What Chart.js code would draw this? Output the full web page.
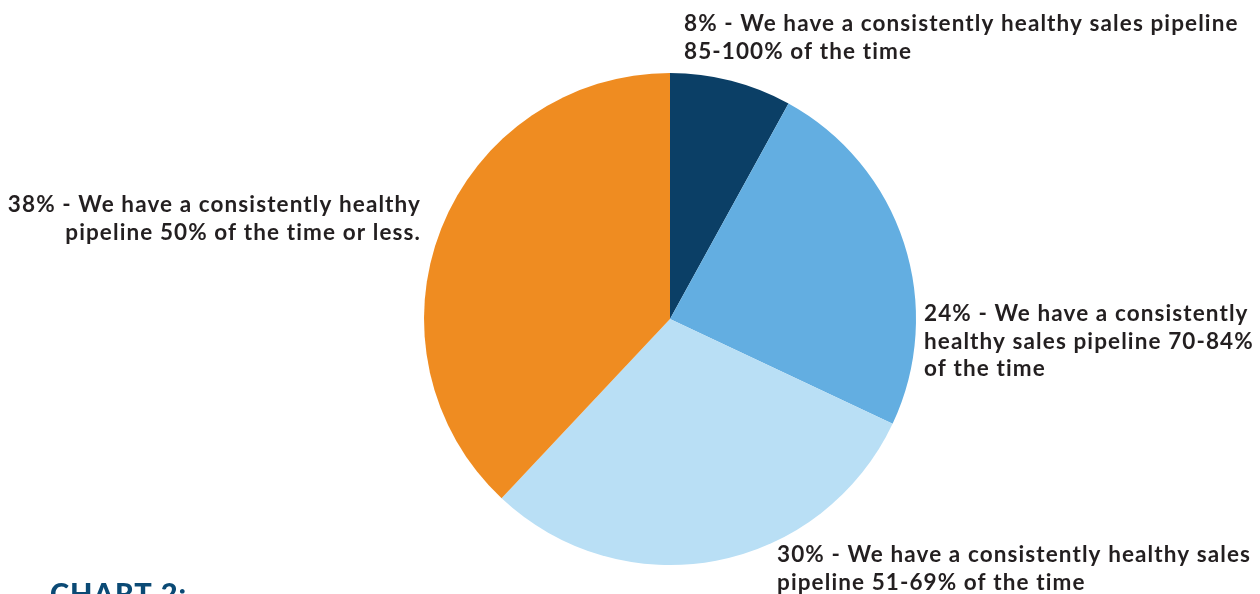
<!DOCTYPE html>
<html><head><meta charset="utf-8">
<script src="https://cdn.jsdelivr.net/npm/chart.js@4"></script>
<style>html,body{margin:0;padding:0;background:#fff;}#wrap{position:relative;width:1260px;height:594px;}</style>
</head><body><div id="wrap"><canvas id="c" width="1260" height="594"></canvas></div>
<script>
const categories = [
  ["8% - We have a consistently healthy sales pipeline", "85-100% of the time"],
  ["24% - We have a consistently", "healthy sales pipeline 70-84%", "of the time"],
  ["30% - We have a consistently healthy sales", "pipeline 51-69% of the time"],
  ["38% - We have a consistently healthy", "pipeline 50% of the time or less."]
];
const values = [8, 24, 30, 38];
const colors = ["#0b3f66", "#63aee1", "#b9dff5", "#ef8c21"];
const title = "CHART 2:";

const labelPos = [
  {x: 684, y: 24, align: "left"},
  {x: 924, y: 314, align: "left"},
  {x: 777, y: 555, align: "left"},
  {x: 421, y: 205, align: "right"}
];

const labelPlugin = {
  id: "labels",
  afterDraw(chart) {
    const ctx = chart.ctx;
    ctx.save();
    ctx.fillStyle = "#231f20";
    ctx.font = "bold 22.5px Lato";
    ctx.letterSpacing = "1.1px";
    ctx.textBaseline = "middle";
    categories.forEach((lines, i) => {
      const p = labelPos[i];
      ctx.textAlign = p.align;
      lines.forEach((t, j) => ctx.fillText(t, p.x, p.y + j * 27.5));
    });
    ctx.fillStyle = "#0b4a75";
    ctx.font = "900 29px Lato";
    ctx.letterSpacing = "1px";
    ctx.textAlign = "left";
    ctx.textBaseline = "alphabetic";
    ctx.fillText(title, 50, 604);
    ctx.restore();
  }
};

new Chart(document.getElementById("c"), {
  type: "pie",
  data: {
    labels: categories.map(l => l.join(" ")),
    datasets: [{ data: values, backgroundColor: colors, borderWidth: 0 }]
  },
  options: {
    responsive: false,
    animation: false,
    layout: { padding: { left: 424, right: 344, top: 73, bottom: 29 } },
    plugins: { legend: { display: false }, tooltip: { enabled: false } }
  },
  plugins: [labelPlugin]
});
</script></body></html>
